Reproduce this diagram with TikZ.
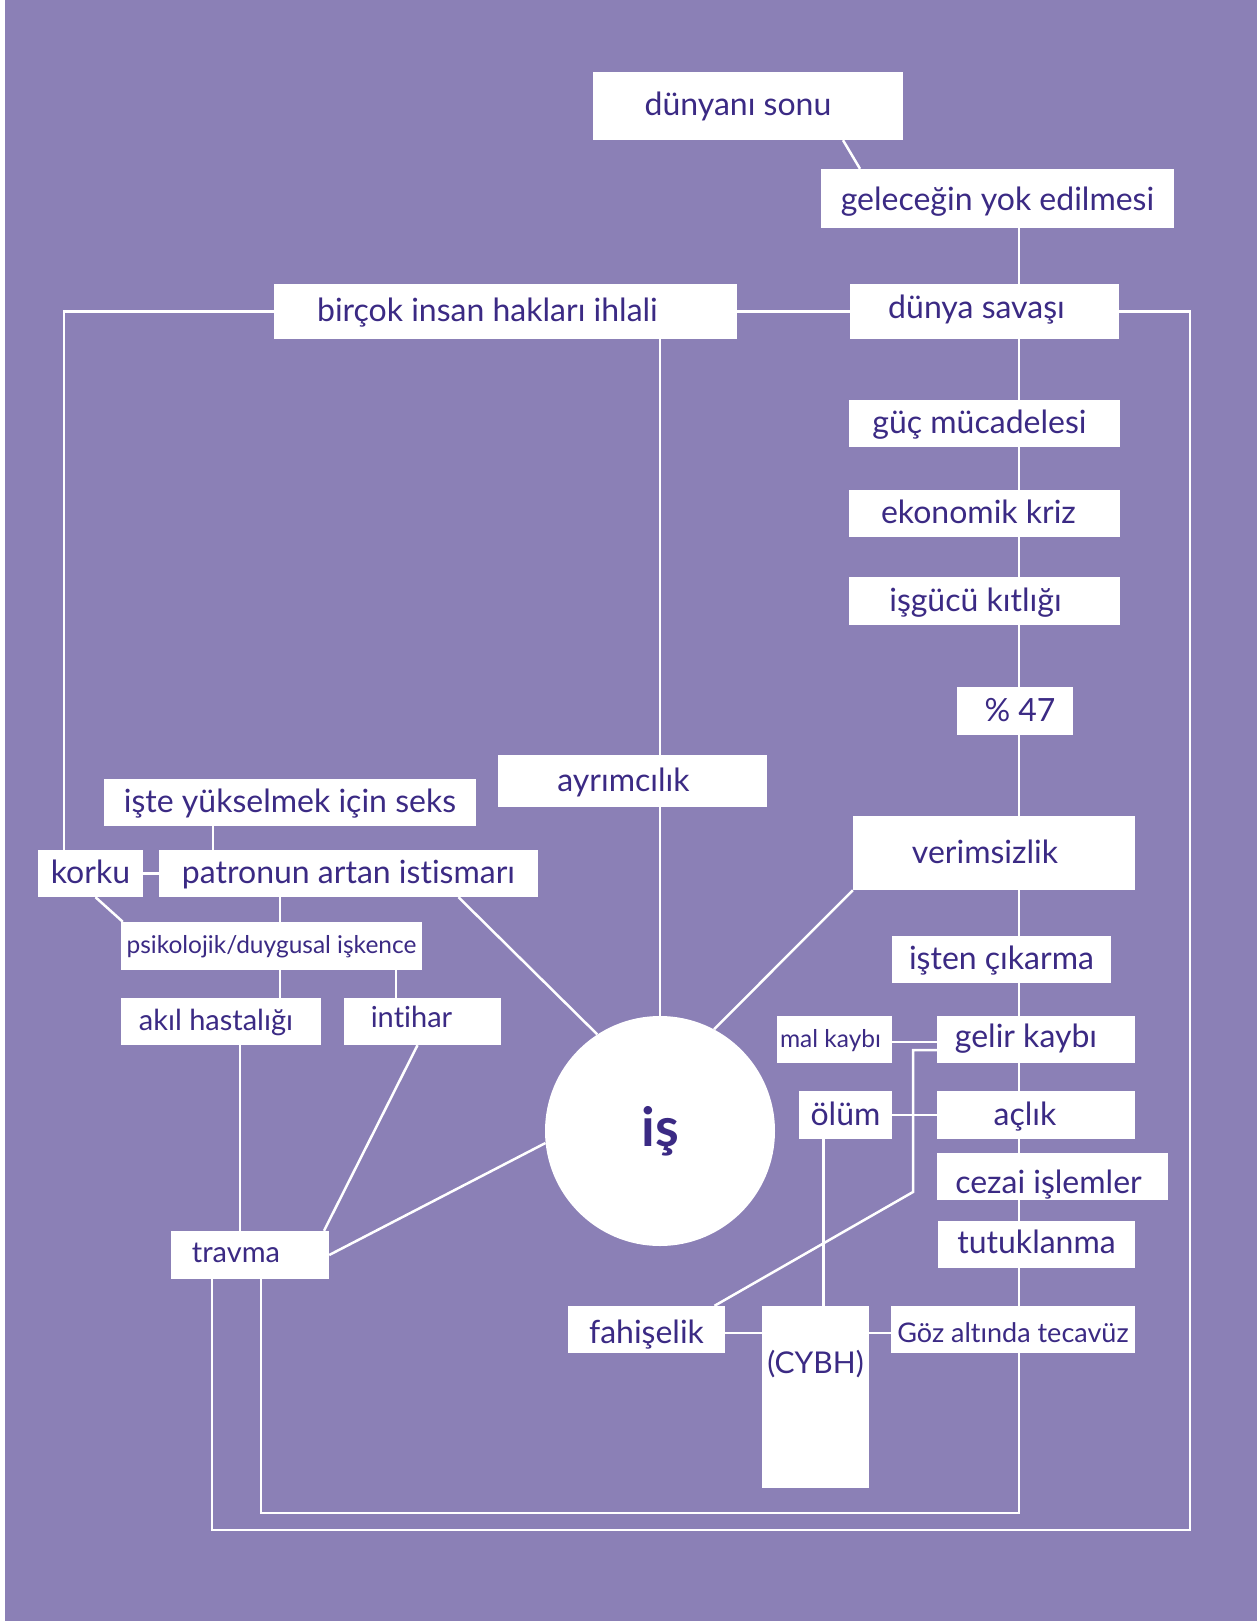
\documentclass[tikz,border=0pt]{standalone}
\usepackage{fontspec}
\setmainfont{Lato}[Ligatures=NoCommon]
\usetikzlibrary{positioning, calc, backgrounds}
\definecolor{bgpurple}{RGB}{139,128,182}
\definecolor{txtink}{RGB}{59,42,132}
% shift a label sideways inside its box
\newcommand{\tnudge}[2]{\hspace*{#1}#2\hspace*{-#1}}

\begin{document}
\begin{tikzpicture}[x=1pt, y=-1pt,
    bx/.style={rectangle, fill=white, inner sep=0pt, text=txtink,
               font=\fontsize{32}{36}\selectfont, text height=26pt, text depth=6pt},
    mbx/.style={bx, font=\fontsize{29}{33}\selectfont},
    sbx/.style={bx, font=\fontsize{24.5}{28}\selectfont},
    ln/.style={draw=white, line width=2.5pt},
]

% Page
\useasboundingbox (0,0) rectangle (1257,1621);
\fill[white] (0,0) rectangle (5,1621);
\fill[bgpurple] (5,0) rectangle (1257,1621);

% Rails and bends
\coordinate (spine) at (1019,0);
\coordinate (lrail) at (64,0);
\coordinate (rrail) at (1190,1530);
\coordinate (ibot)  at (1019,1513);
\coordinate (fbend) at (913,1192);

% Top chain
\node[bx, minimum width=310, minimum height=68] (sonu)    at (748,106)    {\tnudge{-10pt}{dünyanı sonu}};
\node[bx, minimum width=353, minimum height=59, text height=31pt] (gelecek) at (997.5,198.5) {geleceğin yok edilmesi};
\node[bx, minimum width=463, minimum height=55] (ihlal)   at (505.5,311.5) {\tnudge{-18pt}{birçok insan hakları ihlali}};
\node[bx, minimum width=269, minimum height=55, text height=19pt] (savas) at (984.5,311.5) {\tnudge{-8pt}{dünya savaşı}};
\node[bx, minimum width=271, minimum height=47] (guc)     at (984.5,423.5) {\tnudge{-5pt}{güç mücadelesi}};
\node[bx, minimum width=271, minimum height=47] (kriz)    at (984.5,513.5) {\tnudge{-6pt}{ekonomik kriz}};
\node[bx, minimum width=271, minimum height=48] (isgucu)  at (984.5,601)   {\tnudge{-9pt}{işgücü kıtlığı}};
\node[bx, minimum width=116, minimum height=48] (yuzde)   at (1015,711)    {\tnudge{5pt}{\% 47}};

% Left cluster
\node[bx, minimum width=269, minimum height=52] (ayrim)   at (632.5,781)   {\tnudge{-9pt}{ayrımcılık}};
\node[bx, minimum width=372, minimum height=47] (seks)    at (290,802.5)   {işte yükselmek için seks};
\node[bx, minimum width=105, minimum height=47] (korku)   at (90.5,873.5)  {korku};
\node[bx, minimum width=379, minimum height=47] (patron)  at (348.5,873.5) {patronun artan istismarı};
\node[sbx, minimum width=301, minimum height=48, text height=20pt] (iskence) at (271.5,946) {psikolojik/duygusal işkence};
\node[mbx, minimum width=200, minimum height=47, text height=23pt] (akil) at (221,1021.5) {\tnudge{-5pt}{akıl hastalığı}};
\node[mbx, minimum width=157, minimum height=47, text height=17pt] (intihar) at (422.5,1021.5) {\tnudge{-11pt}{intihar}};
\node[mbx, minimum width=158, minimum height=48, text height=20pt] (travma) at (250,1255) {\tnudge{-14pt}{travma}};

% Right cluster
\node[bx, minimum width=282, minimum height=74] (verim)   at (994,853)     {\tnudge{-9pt}{verimsizlik}};
\node[bx, minimum width=219, minimum height=47] (cikarma) at (1001.5,959.5) {işten çıkarma};
\node[sbx, minimum width=115, minimum height=47, text height=21pt] (mal) at (834.5,1039.5) {\tnudge{-4pt}{mal kaybı}};
\node[bx, minimum width=198, minimum height=47, text height=21pt] (gelir) at (1036,1039.5) {\tnudge{-10pt}{gelir kaybı}};
\node[bx, minimum width=93, minimum height=48]  (olum)    at (845.5,1115)  {ölüm};
\node[bx, minimum width=198, minimum height=48] (aclik)   at (1036,1115)   {\tnudge{-11pt}{açlık}};
\node[bx, minimum width=231, minimum height=47, text height=39pt] (cezai) at (1052.5,1176.5) {\tnudge{-4pt}{cezai işlemler}};
\node[bx, minimum width=197, minimum height=47, text height=23pt] (tutuk) at (1036.5,1244.5) {tutuklanma};
\node[bx, minimum width=157, minimum height=47, text height=33pt] (fahise) at (646.5,1329.5) {fahişelik};
\node[bx, font=\fontsize{30}{34}\selectfont, minimum width=107, text height=67pt, text depth=115pt, anchor=base] (cybh) at (815.5,1373) {(CYBH)};
\node[bx, font=\fontsize{27}{31}\selectfont, minimum width=244, minimum height=47, text height=31pt] (goz) at (1013,1329.5) {Göz altında tecavüz};

% Centre
\node[circle, fill=white, minimum size=230, inner sep=0pt, text=txtink,
      font=\fontsize{54}{60}\selectfont\bfseries] (is) at (660,1131) {iş};

% Top links
\draw[ln] ([xshift=95]sonu.south) -- ([xshift=-137.5]gelecek.north);
\draw[ln] (gelecek.south -| spine) -- (savas.north -| spine);
\draw[ln] (ihlal.east) -- (savas.west);
\draw[ln] (ihlal.west) -| (korku.north -| lrail);
\draw[ln] (savas.east) -| (rrail) -| ([xshift=-38]travma.south);
\draw[ln] (ihlal.south -| is.north) -- (ayrim.north -| is.north);
\draw[ln] (ayrim.south -| is.north) -- (is.north);

% Spine
\draw[ln] (savas.south -| spine) -- (guc.north -| spine);
\draw[ln] (guc.south -| spine) -- (kriz.north -| spine);
\draw[ln] (kriz.south -| spine) -- (isgucu.north -| spine);
\draw[ln] (isgucu.south -| spine) -- (yuzde.north -| spine);
\draw[ln] (yuzde.south -| spine) -- (verim.north -| spine);
\draw[ln] (verim.south -| spine) -- (cikarma.north -| spine);
\draw[ln] (cikarma.south -| spine) -- (gelir.north -| spine);
\draw[ln] (gelir.south -| spine) -- (aclik.north -| spine);
\draw[ln] (aclik.south -| spine) -- (cezai.north -| spine);
\draw[ln] (cezai.south -| spine) -- (tutuk.north -| spine);
\draw[ln] (tutuk.south -| spine) -- (goz.north -| spine);

% Left links
\draw[ln] ([xshift=-77]seks.south) -- ([xshift=-77]seks.south |- patron.north);
\draw[ln] (korku.east) -- (patron.west);
\draw[ln] ([xshift=5]korku.south) -- ([xshift=2]iskence.north west);
\draw[ln] ([xshift=-68.5]patron.south) -- ([xshift=-68.5]patron.south |- iskence.north);
\draw[ln] ([xshift=110]patron.south) -- (is.123);
\draw[ln] ([xshift=8.5]iskence.south) -- ([xshift=8.5]iskence.south |- akil.north);
\draw[ln] ([xshift=124.5]iskence.south) -- ([xshift=124.5]iskence.south |- intihar.north);
\draw[ln] ([xshift=19]akil.south) -- ([xshift=19]akil.south |- travma.north);
\draw[ln] ([xshift=-5]intihar.south) -- ([xshift=74]travma.north);
\draw[ln] (travma.east) -- (is.186);
\draw[ln] ([xshift=11]travma.south) |- (ibot) -- (goz.south -| ibot);

% Right links
\draw[ln] (verim.south west) -- (is.62);
\draw[ln] ([yshift=-2.5]mal.east) -- ([yshift=-2.5]gelir.west);
\draw[ln] ([yshift=-10.5]gelir.west) -| (fbend) -- ([xshift=68]fahise.north);
\draw[ln] (olum.east) -- (aclik.west);
\draw[ln] ([xshift=-22]olum.south) -- ([xshift=-22]olum.south |- cybh.north);
\draw[ln] ([yshift=-3.5]fahise.east) -- ([yshift=-3.5]fahise.east -| cybh.west);
\draw[ln] ([yshift=-3.5]goz.west -| cybh.east) -- ([yshift=-3.5]goz.west);
\end{tikzpicture}
\end{document}
